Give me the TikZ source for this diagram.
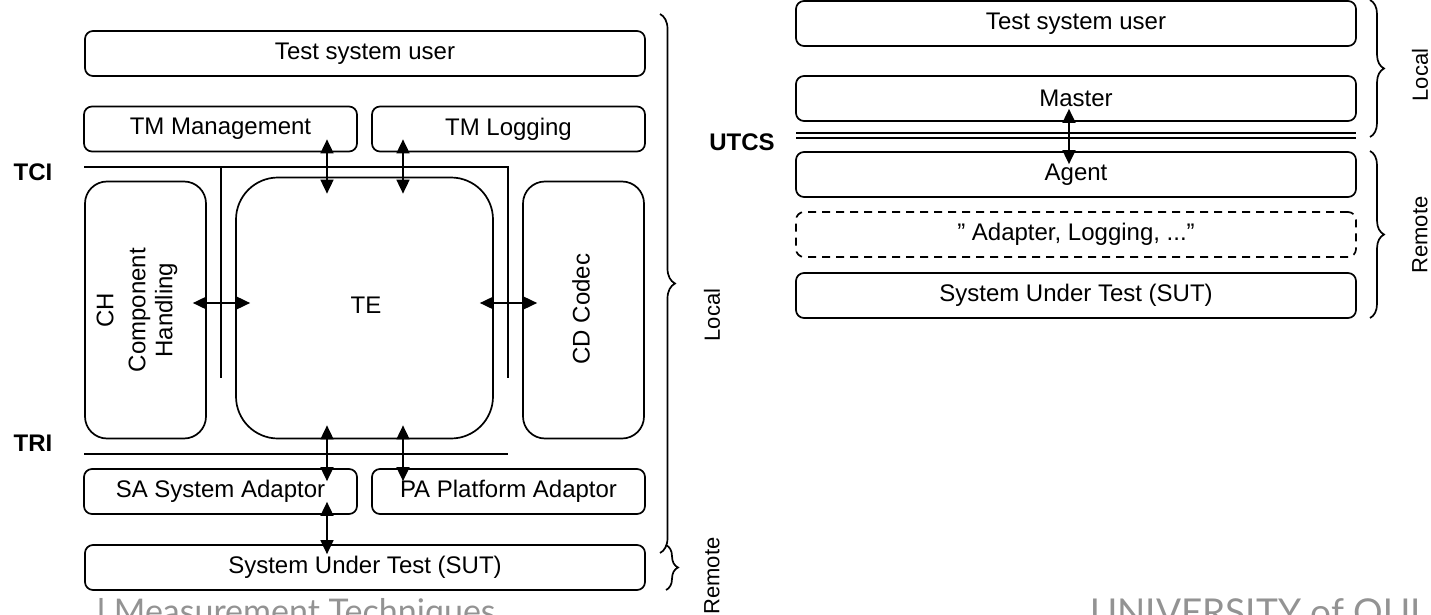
\documentclass[tikz,border=0pt]{standalone}
\usepackage{fontspec}
\setmainfont{Liberation Sans}
\newfontfamily\footfont{Lato}
\usetikzlibrary{arrows.meta,decorations.pathreplacing,calc}
\begin{document}
\begin{tikzpicture}[x=1pt,y=-1pt,
  box/.style={draw, line width=1.7pt, rounded corners=8pt, inner sep=0pt, font=\fontsize{24}{27}\selectfont, minimum height=45pt},
  wide/.style={box, minimum width=560pt},
  half/.style={box, minimum width=273pt},
  tall/.style={box, rounded corners=22pt, minimum width=121pt, minimum height=257pt},
  bus/.style={line width=1.7pt},
  dbl/.style={line width=1.7pt, {Triangle[width=13pt,length=14pt]}-{Triangle[width=13pt,length=14pt]}},
  brc/.style={line width=1.7pt, decorate, decoration={brace, amplitude=#1}},
  lbl/.style={font=\fontsize{24}{27}\selectfont\bfseries, inner sep=0pt},
  rot/.style={font=\fontsize{24}{27}\selectfont, rotate=90, inner sep=0pt, align=center},
  side/.style={font=\fontsize{22}{26}\selectfont, rotate=90, inner sep=0pt},
  foot/.style={font=\footfont\fontsize{#1}{44}\selectfont, text=gray!85, anchor=base west, inner sep=0pt}
]
\useasboundingbox (0,0) rectangle (1431,615);
\clip (0,0) rectangle (1431,615);

% ---------- left diagram ----------
\node[wide] (tsu) at (365,53.5) {Test system user};
\node[half] (tmm) at (220.5,129) {TM Management};
\node[half] (tml) at (508.5,129) {TM Logging};
\node[tall] (ch) at (145.5,310) {};
\node[box, rounded corners=42pt, minimum width=257pt, minimum height=261pt] (te) at (364.5,308) {};
\node[tall] (cd) at (583.5,310) {};
\node[half] (sa) at (220.5,491.5) {SA System Adaptor};
\node[half] (pa) at (508.5,491.5) {PA Platform Adaptor};
\node[wide] (sut) at (365,567.5) {System Under Test (SUT)};

\node[rot] (chl) at (137,310) {CH\\[5pt]Component\\Handling};
\node[rot] (cdl) at (581,309) {CD Codec};
\node[font=\fontsize{24}{27}\selectfont, inner sep=0pt] (tel) at (366,305) {TE};

% interface lines
\coordinate (tciA) at (84,167);
\coordinate (tciB) at (508,167);
\coordinate (tciC) at (508,378);
\coordinate (tciD) at (221,167);
\coordinate (tciE) at (221,378);
\coordinate (triA) at (84,454);
\coordinate (triB) at (508,454);
\draw[bus] (tciA) -- (tciB) -- (tciC);
\draw[bus] (tciD) -- (tciE);
\draw[bus] (triA) -- (triB);

\node[lbl] (tci) at (33,172) {TCI};
\node[lbl] (tri) at (33,443) {TRI};

% arrows
\coordinate (c1) at (327,0);
\coordinate (c2) at (403,0);
\coordinate (rr) at (0,303);
\draw[dbl] ([yshift=13pt]tmm.south -| c1) -- ([yshift=-17pt]te.north -| c1);
\draw[dbl] ([yshift=13pt]tml.south -| c2) -- ([yshift=-17pt]te.north -| c2);
\draw[dbl] ([xshift=-14pt]ch.east |- rr) -- ([xshift=15pt]te.west |- rr);
\draw[dbl] ([xshift=-14pt]te.east |- rr) -- ([xshift=15pt]cd.west |- rr);
\draw[dbl] ([yshift=14pt]te.south -| c1) -- ([yshift=-13pt]sa.north -| c1);
\draw[dbl] ([yshift=14pt]te.south -| c2) -- ([yshift=-13pt]pa.north -| c2);
\draw[dbl] ([yshift=13pt]sa.south -| c1) -- ([yshift=-10pt]sut.north -| c1);

% braces
\draw[brc=15pt] (660,14) -- (660,553);
\draw[brc=12pt] (666,545) -- (666,590);
\node[side] (loc1) at (712,315) {Local};
\node[side] (rem1) at (712,576) {Remote};

% ---------- right diagram ----------
\node[wide] (rtsu) at (1076,23.5) {Test system user};
\node[wide] (mas) at (1076,98.5) {Master};
\node[wide] (agt) at (1076,174.5) {Agent};
\node[wide, dash pattern=on 8pt off 6pt] (adp) at (1076,234.5) {” Adapter, Logging, ...”};
\node[wide] (rsut) at (1076,295.5) {System Under Test (SUT)};

\coordinate (uA) at (796,133);
\coordinate (uB) at (1356,133);
\coordinate (uC) at (796,138);
\coordinate (uD) at (1356,138);
\draw[bus] (uA) -- (uB);
\draw[bus] (uC) -- (uD);
\node[lbl] (utcs) at (742,142) {UTCS};

\coordinate (c3) at (1069,0);
\draw[dbl] ([yshift=13pt]mas.south -| c3) -- ([yshift=-13pt]agt.north -| c3);

\draw[brc=14pt] (1370,0) -- (1370,137);
\draw[brc=14pt] (1370,151) -- (1370,318);
\node[side] (loc2) at (1420,75) {Local};
\node[side] (rem2) at (1420,235) {Remote};

% ---------- footer fragments (cut by the lower edge) ----------
\node[foot=34] (ft1) at (97,623) {l Measurement Techniques};
\node[foot=37] (ft2) at (1090,625) {UNIVERSITY of OULU};
\end{tikzpicture}
\end{document}
